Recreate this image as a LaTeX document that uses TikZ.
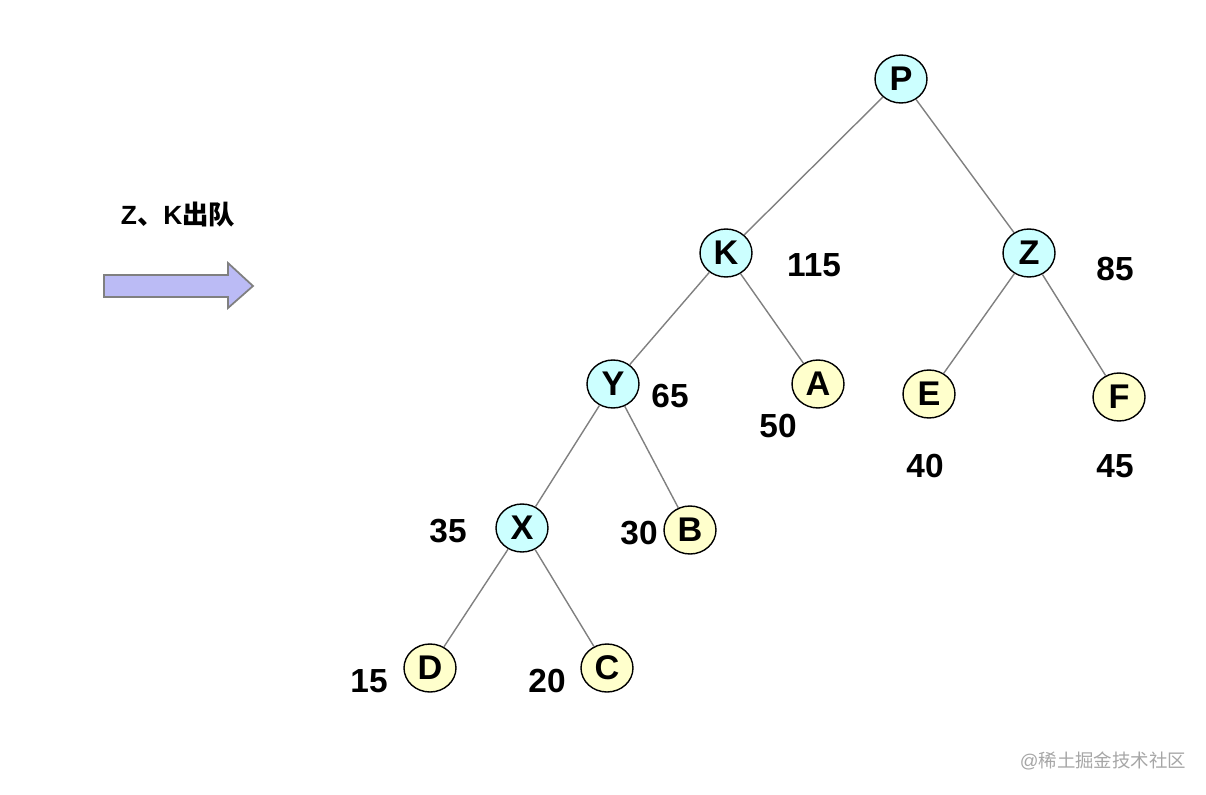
\documentclass[tikz,border=0pt]{standalone}
\usepackage{fontspec}
\setmainfont{Liberation Sans}
\newfontfamily\cjk{Noto Sans CJK SC}
\usepackage{tikz}
\usetikzlibrary{shapes.geometric, arrows.meta}

\definecolor{innerfill}{RGB}{204,255,255}
\definecolor{leaffill}{RGB}{255,255,204}
\definecolor{arrowfill}{RGB}{187,187,245}
\definecolor{edgegray}{RGB}{128,128,128}

\tikzset{
	knoten/.style={ellipse, draw=black, line width=0.8pt, minimum width=1.04cm, minimum height=0.96cm, inner sep=0pt, font=\bfseries\fontsize{19.5}{20}\selectfont},
	innen/.style={knoten, fill=innerfill},
	blatt/.style={knoten, fill=leaffill},
	gewicht/.style={font=\bfseries\fontsize{19}{20}\selectfont},
	kante/.style={edgegray, line width=0.8pt}
}

\begin{document}
\begin{tikzpicture}[x=0.02cm, y=-0.02cm]
			\useasboundingbox (0,0) rectangle (1206,794);
			
			% Beschriftung und Pfeil
			\node[font=\bfseries\fontsize{15}{16}\selectfont] (titel) at (178,215) {Z{\cjk 、}K{\cjk\bfseries 出队}};
			\draw[edgegray, fill=arrowfill, line width=1pt, line join=miter]
				(104,275) -- (228,275) -- (228,263) -- (253,286) -- (228,308) -- (228,297) -- (104,297) -- cycle;
			
			% Knoten
			\node[innen] (P) at (901,79) {P};
			\node[innen] (K) at (726,253) {K};
			\node[innen] (Z) at (1029,253) {Z};
			\node[innen] (Y) at (613,384) {Y};
			\node[blatt] (A) at (818,384) {A};
			\node[blatt] (E) at (929,394) {E};
			\node[blatt] (F) at (1119,397) {F};
			\node[innen] (X) at (522,528) {X};
			\node[blatt] (B) at (690,530) {B};
			\node[blatt] (D) at (430,668) {D};
			\node[blatt] (C) at (607,668) {C};
			
			% Kanten
			\foreach \a/\b in {P/K,P/Z,K/Y,K/A,Z/E,Z/F,Y/X,Y/B,X/D,X/C} {
				\draw[kante] (\a) -- (\b);
			}
			
			% Gewichte
			\node[gewicht] (wK) at (814,265) {115};
			\node[gewicht] (wZ) at (1115,269) {85};
			\node[gewicht] (wY) at (670,396) {65};
			\node[gewicht] (wA) at (778,426) {50};
			\node[gewicht] (wE) at (925,466) {40};
			\node[gewicht] (wF) at (1115,466) {45};
			\node[gewicht] (wX) at (448,531) {35};
			\node[gewicht] (wB) at (639,533) {30};
			\node[gewicht] (wD) at (369,681) {15};
			\node[gewicht] (wC) at (547,681) {20};
			
			% Wasserzeichen
			\node[text=gray!70, font=\fontsize{10.5}{11}\selectfont] (marke) at (1103,761) {@{\cjk 稀土掘金技术社区}};
		\end{tikzpicture}
\end{document}
